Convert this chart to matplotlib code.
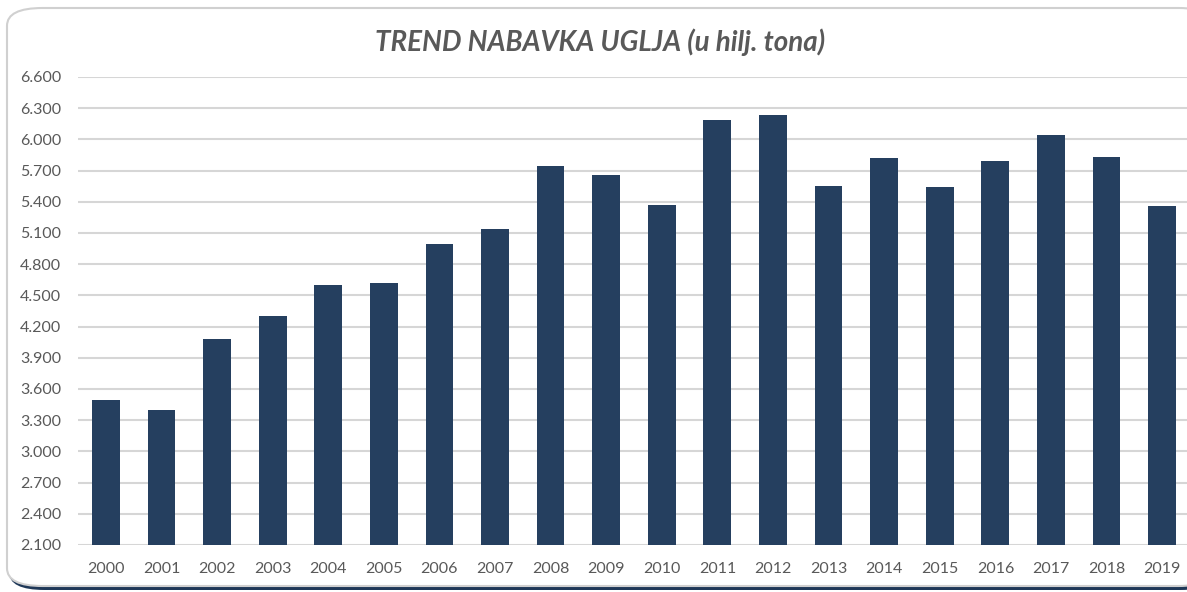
import matplotlib
matplotlib.use("Agg")
import matplotlib.pyplot as plt
from matplotlib.patches import FancyBboxPatch
from matplotlib.ticker import FuncFormatter, MultipleLocator

years = [str(y) for y in range(2000, 2020)]
values = [3490, 3400, 4080, 4305, 4600, 4620, 4990, 5140, 5740, 5660,
          5370, 6190, 6230, 5550, 5820, 5540, 5790, 6040, 5830, 5355]
title = "TREND NABAVKA UGLJA (u hilj. tona)"

W, H = 1187, 592
fig = plt.figure(figsize=(W / 100, H / 100), dpi=100)
fig.patch.set_facecolor("white")

# frame with shadow
shadow = FancyBboxPatch((9 / W, 2 / H), (W + 20) / W, (H - 13) / H,
                        boxstyle="round,pad=0,rounding_size=0.03",
                        transform=fig.transFigure, facecolor="#1F3858",
                        edgecolor="none", zorder=0)
frame = FancyBboxPatch((7 / W, 6 / H), (W + 20) / W, (H - 14) / H,
                       boxstyle="round,pad=0,rounding_size=0.03",
                       transform=fig.transFigure, facecolor="white",
                       edgecolor="#D0D0D0", linewidth=1.5, zorder=1)
fig.patches.extend([shadow, frame])

ax = fig.add_axes([78 / W, 47 / H, (1190 - 78) / W, (545 - 77) / H])
ax.set_facecolor("none")
ax.set_zorder(2)
x = range(len(years))
ax.bar(x, values, width=0.5, color="#253F5F", zorder=3)
ax.set_ylim(2100, 6600)
ax.set_xlim(-0.5, len(years) - 0.5)
ax.yaxis.set_major_locator(MultipleLocator(300))
ax.yaxis.set_major_formatter(FuncFormatter(lambda v, p: f"{v:,.0f}".replace(",", ".")))
ax.set_xticks(list(x))
ax.set_xticklabels(years)
ax.grid(axis="y", color="#D6D6D6", linewidth=1.5, zorder=0)
ax.set_axisbelow(True)
for s in ax.spines.values():
    s.set_visible(False)
ax.tick_params(axis="both", length=0, colors="#595959", labelsize=11.5)
ax.tick_params(axis="y", pad=12)
ax.tick_params(axis="x", pad=12)
for lab in ax.get_xticklabels() + ax.get_yticklabels():
    lab.set_fontfamily("Lato")

fig.text(600 / W, 1 - 42 / H, title, ha="center", va="center",
         fontsize=20, fontweight="bold", fontstyle="italic",
         color="#595959", family="Lato", zorder=5)

fig.savefig("out.png", dpi=100, facecolor="white")
